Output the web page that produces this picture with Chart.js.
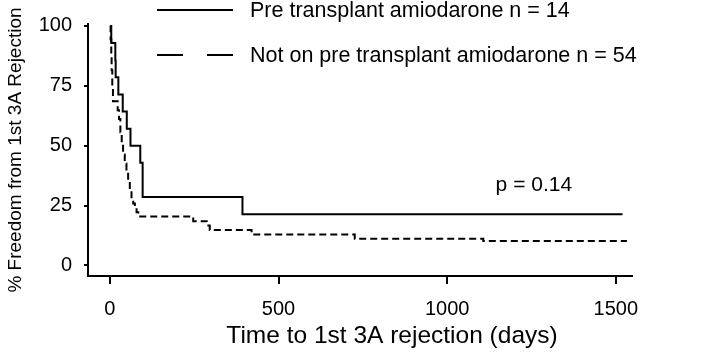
<!DOCTYPE html>
<html>
<head>
<meta charset="utf-8">
<script src="https://cdn.jsdelivr.net/npm/chart.js@4.4.1/dist/chart.umd.min.js"></script>
<style>
  html, body { margin: 0; padding: 0; background: #fff; }
  #wrap { width: 720px; height: 353px; }
</style>
</head>
<body>
<div id="wrap"><canvas id="km"></canvas></div>
<script>
// Kaplan-Meier data (day of event, % free after it)
const preDays = [0, 4, 16, 17, 25, 38, 50, 61, 90, 97, 393, 1520];
const preSurv = [100, 92.9, 85.7, 78.6, 71.4, 64.3, 57.1, 50, 42.9, 28.6, 21.4, 21.4];

const notDays = [0, 2, 4, 5, 7, 9, 23, 27, 31, 35, 39, 44, 49, 54, 59, 64, 69, 74, 79, 84, 247, 287, 296, 420, 726, 1107, 1533];
const notSurv = [100, 94.4, 87.0, 81.5, 74.1, 68.5, 64.8, 61.1, 55.6, 51.9, 46.3, 42.6, 38.9, 35.2, 31.5, 27.8, 25.9, 24.1, 22.2, 20.4, 18.5, 16.7, 14.8, 12.9, 11.2, 10.2, 10.2];

const xTicks = [0, 500, 1000, 1500];
const yTicks = [0, 25, 50, 75, 100];

const seriesLabels = [
  "Pre transplant amiodarone n = 14",
  "Not on pre transplant amiodarone n = 54",
];
const xTitle = "Time to 1st 3A rejection (days)";
const pText = "p = 0.14";
const pAt = { x: 1257, y: 33.5 };

const FONT = "'Liberation Sans', Arial, sans-serif";
Chart.defaults.font.family = FONT;
Chart.defaults.color = "#000";

const toXY = (xs, ys) => xs.map((x, i) => ({ x, y: ys[i] }));

// legend drawn as in the paper: long line sample + text, top right
// (x title is drawn here too, it sits right of the plot centre in the original)
const paperLegend = {
  id: "paperLegend",
  afterDraw(chart) {
    const ctx = chart.ctx;
    const rows = [10, 55];
    ctx.save();
    chart.data.datasets.forEach((ds, i) => {
      const y = rows[i];
      ctx.strokeStyle = "#000";
      ctx.lineWidth = 2;
      ctx.setLineDash(i === 0 ? [] : [26, 24]);
      ctx.beginPath();
      ctx.moveTo(157, y);
      ctx.lineTo(233, y);
      ctx.stroke();
      ctx.setLineDash([]);
      ctx.fillStyle = "#000";
      ctx.font = "21.5px " + FONT;
      ctx.textBaseline = "middle";
      ctx.textAlign = "left";
      ctx.fillText(seriesLabels[i], 250, y + 1);
    });
    // p value note
    const px = chart.scales.x.getPixelForValue(pAt.x);
    const py = chart.scales.y.getPixelForValue(pAt.y);
    ctx.font = "21px " + FONT;
    ctx.textAlign = "center";
    ctx.fillText(pText, px, py);
    // x axis title
    ctx.font = "24.5px " + FONT;
    ctx.fillText(xTitle, 392, 336);
    ctx.restore();
  },
};

new Chart(document.getElementById("km"), {
  type: "line",
  data: {
    datasets: [
      {
        label: seriesLabels[0],
        data: toXY(preDays, preSurv),
        borderColor: "#000",
        borderWidth: 2,
        stepped: "before",
        pointRadius: 0,
        fill: false,
      },
      {
        label: seriesLabels[1],
        data: toXY(notDays, notSurv),
        borderColor: "#000",
        borderWidth: 2,
        borderDash: [7, 4],
        stepped: "before",
        pointRadius: 0,
        fill: false,
      },
    ],
  },
  options: {
    responsive: true,
    maintainAspectRatio: false,
    animation: false,
    layout: { padding: { top: 12, right: 88, left: 0, bottom: 0 } },
    plugins: { legend: { display: false }, tooltip: { enabled: false } },
    scales: {
      x: {
        type: "linear",
        min: -65,
        max: 1548,
        afterBuildTicks: (s) => { s.ticks = xTicks.map((v) => ({ value: v })); },
        afterFit: (s) => { s.height = 77; },
        grid: { display: true, drawOnChartArea: false, drawTicks: true, tickLength: 8, color: "#000", lineWidth: 2 },
        border: { display: true, color: "#000", width: 2 },
        ticks: { font: { size: 20 }, padding: 13, maxRotation: 0, color: "#000", callback: (v) => String(v) },
        title: { display: false },
      },
      y: {
        min: -4.4,
        max: 100.8,
        afterBuildTicks: (s) => { s.ticks = yTicks.map((v) => ({ value: v })); },
        afterFit: (s) => { s.width = 88; },
        grid: { display: true, drawOnChartArea: false, drawTicks: true, tickLength: 4, color: "#000", lineWidth: 2 },
        border: { display: true, color: "#000", width: 2 },
        ticks: { font: { size: 20 }, padding: 12, color: "#000", callback: (v) => String(v) },
        title: { display: true, text: "% Freedom from 1st 3A Rejection", font: { size: 19 }, padding: { top: 4, bottom: 0 }, color: "#000" },
      },
    },
  },
  plugins: [paperLegend],
});
</script>
</body>
</html>
